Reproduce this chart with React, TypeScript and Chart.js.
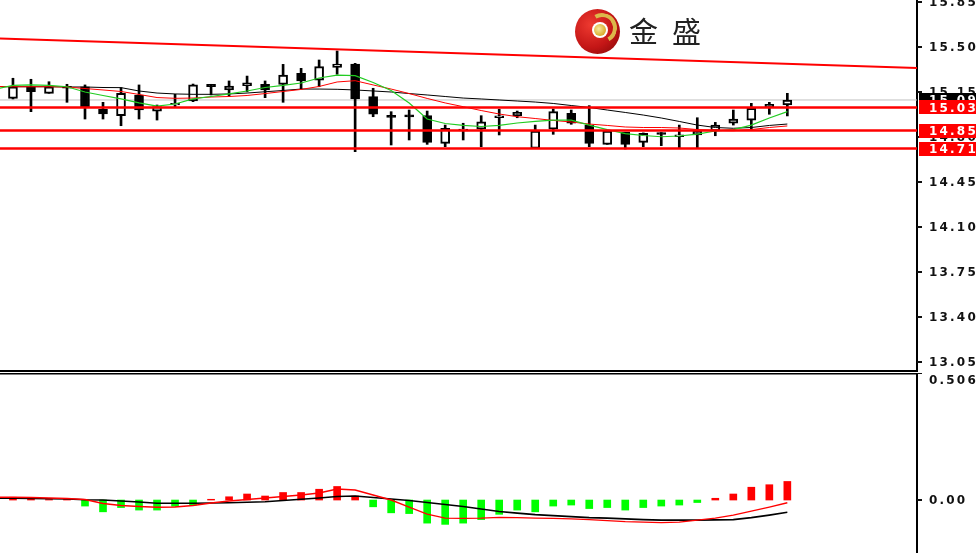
import React, { useEffect, useRef } from "react";
import { Chart, registerables } from "chart.js";

Chart.register(...registerables);

// ---------- data ----------
const firstIndex = -1; // first (partly hidden) candle
const opens = [15.12, 15.101, 15.191, 15.14, 15.195, 15.191, 15.016, 14.966, 15.127, 15.002, 15.05, 15.08, 15.21, 15.166, 15.199, 15.21, 15.21, 15.295, 15.243, 15.342, 15.368, 15.114, 14.968, 14.973, 14.966, 14.751, 14.848, 14.862, 14.95, 14.966, 14.712, 14.862, 14.984, 14.893, 14.743, 14.837, 14.759, 14.835, 14.803, 14.816, 14.847, 14.907, 14.932, 15.028, 15.049];
const highs = [15.27, 15.257, 15.249, 15.23, 15.21, 15.205, 15.07, 15.184, 15.205, 15.049, 15.132, 15.212, 15.21, 15.236, 15.274, 15.236, 15.365, 15.334, 15.399, 15.469, 15.373, 15.179, 14.997, 15.01, 15.002, 14.893, 14.907, 14.966, 15.016, 15.002, 14.893, 15.018, 15.01, 15.044, 14.847, 14.837, 14.832, 14.835, 14.893, 14.95, 14.914, 15.01, 15.062, 15.07, 15.14];
const lows = [15.1, 15.096, 14.997, 15.14, 15.07, 14.94, 14.94, 14.888, 14.94, 14.932, 15.036, 15.075, 15.127, 15.114, 15.152, 15.106, 15.07, 15.173, 15.191, 15.288, 14.686, 14.958, 14.738, 14.777, 14.743, 14.725, 14.777, 14.725, 14.816, 14.95, 14.712, 14.821, 14.899, 14.725, 14.743, 14.707, 14.725, 14.733, 14.712, 14.712, 14.81, 14.893, 14.855, 14.977, 14.964];
const closes = [15.22, 15.191, 15.152, 15.191, 15.18, 15.028, 14.979, 15.14, 15.01, 15.036, 15.062, 15.205, 15.191, 15.197, 15.222, 15.166, 15.282, 15.236, 15.347, 15.368, 15.096, 14.977, 14.952, 14.957, 14.759, 14.868, 14.862, 14.919, 14.965, 14.992, 14.847, 14.997, 14.907, 14.751, 14.847, 14.743, 14.829, 14.82, 14.818, 14.847, 14.893, 14.94, 15.023, 15.054, 15.088];

const maFast = [15.173, 15.201, 15.205, 15.201, 15.191, 15.15, 15.123, 15.096, 15.065, 15.041, 15.057, 15.096, 15.115, 15.135, 15.158, 15.185, 15.201, 15.22, 15.259, 15.282, 15.277, 15.224, 15.162, 15.065, 14.94, 14.905, 14.89, 14.882, 14.89, 14.909, 14.921, 14.932, 14.932, 14.893, 14.858, 14.827, 14.812, 14.802, 14.808, 14.823, 14.847, 14.858, 14.893, 14.948, 14.997];
const maMid = [15.193, 15.191, 15.191, 15.191, 15.189, 15.177, 15.166, 15.154, 15.131, 15.107, 15.101, 15.103, 15.111, 15.115, 15.123, 15.138, 15.154, 15.17, 15.193, 15.228, 15.238, 15.205, 15.173, 15.138, 15.1, 15.065, 15.036, 15.006, 14.979, 14.958, 14.944, 14.929, 14.917, 14.901, 14.89, 14.878, 14.874, 14.874, 14.87, 14.858, 14.851, 14.849, 14.858, 14.874, 14.886];
const maSlow = [15.193, 15.191, 15.191, 15.191, 15.189, 15.189, 15.185, 15.184, 15.158, 15.142, 15.135, 15.132, 15.132, 15.135, 15.142, 15.152, 15.162, 15.173, 15.173, 15.171, 15.166, 15.158, 15.15, 15.138, 15.127, 15.115, 15.103, 15.096, 15.088, 15.08, 15.072, 15.061, 15.045, 15.03, 15.01, 14.991, 14.971, 14.948, 14.921, 14.893, 14.874, 14.868, 14.874, 14.89, 14.901];

const levels = [15.03, 14.85, 14.71];
const trendIndex = [-1, 51];
const trendValues = [15.567, 15.333];

const priceTicks = [13.05, 13.4, 13.75, 14.1, 14.45, 14.8, 15.15, 15.5, 15.85];

const macdHist = [0.01, 0.011, 0.003, 0.002, 0.002, -0.024, -0.047, -0.03, -0.04, -0.04, -0.025, -0.02, 0.003, 0.013, 0.024, 0.016, 0.03, 0.03, 0.043, 0.054, 0.016, -0.027, -0.051, -0.054, -0.092, -0.097, -0.092, -0.078, -0.057, -0.04, -0.047, -0.024, -0.02, -0.034, -0.03, -0.04, -0.03, -0.024, -0.02, -0.01, 0.007, 0.024, 0.051, 0.061, 0.074];
const macdMain = [0.007, 0.007, 0.006, 0.005, 0.004, 0.001, 0, -0.004, -0.008, -0.013, -0.013, -0.013, -0.012, -0.011, -0.009, -0.007, -0.002, 0.003, 0.008, 0.014, 0.016, 0.01, 0.004, -0.002, -0.01, -0.018, -0.026, -0.036, -0.046, -0.052, -0.058, -0.062, -0.066, -0.07, -0.072, -0.075, -0.078, -0.08, -0.08, -0.08, -0.079, -0.078, -0.07, -0.06, -0.049];
const macdSignal = [0.011, 0.011, 0.01, 0.008, 0.006, 0.002, -0.014, -0.022, -0.026, -0.029, -0.028, -0.022, -0.012, -0.004, 0.002, 0.008, 0.014, 0.02, 0.028, 0.044, 0.04, 0.02, 0, -0.028, -0.056, -0.072, -0.073, -0.072, -0.069, -0.07, -0.072, -0.073, -0.075, -0.078, -0.082, -0.086, -0.088, -0.09, -0.088, -0.08, -0.072, -0.06, -0.044, -0.028, -0.011];
const macdTop = 0.506;
const macdTicks = [0];

// ---------- view ranges ----------
const xMin = -0.72;
const xMax = 50.2;
const priceMax = 15.8655;
const priceMin = 12.9728;
const macdMin = -0.211;

const idx = opens.map((_, k) => firstIndex + k);
const AXIS_W = 59;
const LABEL_FONT = "bold 12px 'DejaVu Sans'";
const LABEL_SPACING = "2.2px";

function drawTickLabels(chart: any, items: { v: number; text: string; baseline?: string }[]) {
  const { ctx, chartArea, scales } = chart;
  const y = scales.y;
  ctx.save();
  ctx.font = LABEL_FONT;
  try { (ctx as any).letterSpacing = LABEL_SPACING; } catch (e) {}
  ctx.fillStyle = "#111";
  ctx.textAlign = "left";
  items.forEach((it) => {
    const py = y.getPixelForValue(it.v);
    ctx.fillRect(chartArea.right, Math.round(py) - 1, 5, 2);
    ctx.textBaseline = (it.baseline as any) || "middle";
    ctx.fillText(it.text, chartArea.right + 12, it.baseline === "top" ? py + 2 : py + 1);
  });
  ctx.restore();
}

const mainAxisPlugin = {
  id: "mainAxis",
  afterDraw(chart: any) {
    const { ctx, chartArea, scales, width } = chart;
    const y = scales.y;
    drawTickLabels(chart, priceTicks.map((v) => ({ v, text: v.toFixed(2) })));
    ctx.save();
    // bottom border of the price window
    ctx.fillStyle = "#000";
    ctx.fillRect(0, chartArea.bottom - 2, chartArea.right + 1, 2);
    ctx.font = LABEL_FONT;
    try { (ctx as any).letterSpacing = LABEL_SPACING; } catch (e) {}
    ctx.textBaseline = "middle";
    const boxes = [{ v: closes[closes.length - 1], bg: "#000" }].concat(levels.map((v) => ({ v, bg: "#ff0000" })));
    boxes.forEach((b) => {
      const py = y.getPixelForValue(b.v);
      ctx.fillStyle = b.bg;
      ctx.fillRect(chartArea.right + 2, Math.round(py) - 7, width - chartArea.right, 14);
      ctx.fillStyle = "#fff";
      ctx.fillText(b.v.toFixed(2), chartArea.right + 12, py + 1);
    });
    ctx.restore();
  },
};

const subAxisPlugin = {
  id: "subAxis",
  afterDraw(chart: any) {
    const { ctx, chartArea } = chart;
    ctx.save();
    ctx.fillStyle = "#000";
    ctx.fillRect(0, chartArea.top, chartArea.right + 1, 1.5);
    ctx.restore();
    drawTickLabels(chart, [
      { v: macdTop, text: macdTop.toFixed(3), baseline: "top" },
      ...macdTicks.map((v) => ({ v, text: v.toFixed(2) })),
    ]);
  },
};

function yAxis(min: number, max: number) {
  return {
    position: "right" as const,
    min,
    max,
    grid: { display: false },
    ticks: { display: false },
    border: { display: true, color: "#000", width: 2 },
    afterFit: (s: any) => {
      s.width = AXIS_W;
    },
  };
}

const xAxis = { type: "linear" as const, min: xMin, max: xMax, display: false, offset: false };

export default function App() {
  const mainRef = useRef<HTMLCanvasElement>(null);
  const subRef = useRef<HTMLCanvasElement>(null);

  useEffect(() => {
    const pts = (arr: number[]) => idx.map((x, k) => ({ x, y: arr[k] }));
    const flat = (v: number) => [
      { x: trendIndex[0], y: v },
      { x: trendIndex[1], y: v },
    ];
    const lineDs = (data: any, color: string, width: number, order: number) => ({
      type: "line" as const,
      data,
      borderColor: color,
      borderWidth: width,
      pointRadius: 0,
      tension: 0,
      order,
    });

    const main = new Chart(mainRef.current!, {
      type: "bar",
      data: {
        datasets: [
          lineDs(flat(closes[closes.length - 1]), "#c0c0c0", 1, 9),
          {
            type: "bar",
            data: idx.map((x, k) => ({ x, y: [lows[k], highs[k]] })),
            backgroundColor: "#000",
            barThickness: 2,
            grouped: false,
            order: 6,
          } as any,
          {
            type: "bar",
            data: idx.map((x, k) => ({ x, y: [opens[k], closes[k]] })),
            backgroundColor: idx.map((_, k) => (closes[k] >= opens[k] ? "#ffffff" : "#000000")),
            borderColor: "#000",
            borderWidth: 2,
            borderSkipped: false,
            barThickness: 9,
            grouped: false,
            order: 5,
          } as any,
          lineDs(pts(maSlow), "#000000", 1, 4),
          lineDs(pts(maMid), "#ff0000", 1, 3),
          lineDs(pts(maFast), "#22cc22", 1.2, 2),
          ...levels.map((v) => lineDs(flat(v), "#ff0000", 2.5, 1)),
          lineDs(trendIndex.map((x, k) => ({ x, y: trendValues[k] })), "#ff0000", 2, 1),
        ],
      },
      options: {
        animation: false,
        responsive: false,
        events: [],
        layout: { padding: 0 },
        plugins: { legend: { display: false }, tooltip: { enabled: false } },
        scales: { x: xAxis as any, y: yAxis(priceMin, priceMax) as any },
      },
      plugins: [mainAxisPlugin],
    });

    const sub = new Chart(subRef.current!, {
      type: "bar",
      data: {
        datasets: [
          {
            type: "bar",
            data: pts(macdHist),
            backgroundColor: macdHist.map((v) => (v >= 0 ? "#ff0000" : "#00ff00")),
            barThickness: 7,
            grouped: false,
            order: 3,
          } as any,
          lineDs(pts(macdMain), "#000000", 1.6, 2),
          lineDs(pts(macdSignal), "#ff0000", 1.4, 1),
        ],
      },
      options: {
        animation: false,
        responsive: false,
        events: [],
        layout: { padding: 0 },
        plugins: { legend: { display: false }, tooltip: { enabled: false } },
        scales: { x: xAxis as any, y: yAxis(macdMin, macdTop) as any },
      },
      plugins: [subAxisPlugin],
    });

    return () => {
      main.destroy();
      sub.destroy();
    };
  }, []);

  return (
    <div
      style={{
        position: "fixed",
        left: 0,
        top: 0,
        width: 976,
        height: 553,
        background: "#fff",
        overflow: "hidden",
      }}
    >
      <canvas ref={mainRef} width={976} height={372} style={{ position: "absolute", left: 0, top: 0 }} />
      <canvas ref={subRef} width={976} height={180} style={{ position: "absolute", left: 0, top: 373 }} />
      {/* logo */}
      <div
        style={{
          position: "absolute",
          left: 575,
          top: 9,
          width: 45,
          height: 45,
          borderRadius: "50%",
          background: "radial-gradient(circle at 35% 35%, #ee3a30 0%, #c41616 55%, #7e0606 100%)",
        }}
      >
        <div
          style={{
            position: "absolute",
            left: 12,
            top: 4,
            width: 30,
            height: 30,
            borderRadius: "50%",
            boxSizing: "border-box",
            border: "4px solid transparent",
            borderTopColor: "#dcb84a",
            borderRightColor: "#dcb84a",
            transform: "rotate(15deg)",
          }}
        />
        <div
          style={{
            position: "absolute",
            left: 17,
            top: 13,
            width: 16,
            height: 16,
            borderRadius: "50%",
            background: "#fff",
          }}
        />
        <div
          style={{
            position: "absolute",
            left: 19,
            top: 15,
            width: 12,
            height: 12,
            borderRadius: "50%",
            background: "radial-gradient(circle at 40% 40%, #f7ea9c 0%, #d9ab2c 70%, #b8861a 100%)",
          }}
        />
      </div>
      <div
        style={{
          position: "absolute",
          left: 629,
          top: 16,
          fontFamily: "'Noto Sans CJK SC', sans-serif",
          fontSize: 29,
          lineHeight: "29px",
          letterSpacing: 14,
          color: "#222",
          whiteSpace: "nowrap",
        }}
      >
        金盛
      </div>
    </div>
  );
}
